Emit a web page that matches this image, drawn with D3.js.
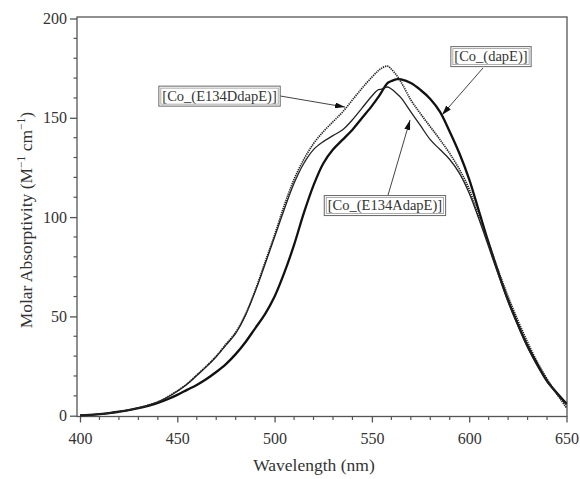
<!DOCTYPE html>
<html>
<head>
<meta charset="utf-8">
<script src="https://cdn.jsdelivr.net/npm/d3@7"></script>
<style>
  html, body { margin: 0; padding: 0; background: #fff; }
  svg { display: block; }
  text { font-family: "Liberation Serif", "Times New Roman", serif; fill: #333; }
</style>
</head>
<body>
<svg id="chart" width="580" height="479"></svg>
<script>
// Absorption spectra of Co(II)-substituted DapE enzymes (molar absorptivity vs wavelength)
const wavelengths = [400,405,410,415,420,425,430,435,440,445,450,455,460,465,470,475,480,485,490,495,
                     500,505,510,515,520,525,530,535,540,545,550,553,555,558,560,563,565,570,575,580,
                     585,590,595,600,605,610,615,620,625,630,635,640,645,650];

const dapE = [0.2,0.4,0.8,1.3,2.0,2.8,3.8,5.0,6.4,8.3,10.5,13,15.5,18.5,22,26,31,37,44,51,
              60,72,86,102,116,127,134,139,144,150,156,160,163,167.5,168.5,169.5,169.3,167.5,164,159.5,
              153,143,132,119,103,87,72,58,46,35,26,17.5,11.5,6];

const e134D = [0.2,0.4,0.8,1.3,2.0,2.8,3.9,5.3,7.0,9.5,12.5,16,20.5,25,30,36,42,51,63,77,
               91,106,119,129,137,143,148,153,159,165,170.5,173.5,175,176,174.5,171,168,159,152,145.5,
               139,132,124,114,100,87,73,60,48,37,27,18.5,11,4];

const e134A = [0.2,0.4,0.8,1.3,2.0,2.8,3.9,5.2,6.9,9.3,12.3,15.8,20.2,24.7,29.7,35.5,41.5,50.5,62.5,76,
               90,104,117,127,134,138,141,144,149,155,161,164,164.5,165.5,164.5,162,160,153,146,139,
               134,129,122,112,99,85,71,57.5,45.5,34.5,25,17,11,5.5];

const seriesNames = ["[Co_(dapE)]", "[Co_(E134DdapE)]", "[Co_(E134AdapE)]"];

// label anchor (box centre) and arrow start/tip, in data units: [wavelength, absorptivity]
const labelCentres = [[611.2, 181.1], [471.7, 161.2], [556.7, 106.1]];
const arrowStarts  = [[607.1, 175.1], [502.8, 161.0], [558.3, 111.1]];
const arrowTips    = [[586.0, 151.4], [536.2, 155.4], [569.6, 148.9]];

const xTicks = [400, 450, 500, 550, 600, 650];
const yTicks = [0, 50, 100, 150, 200];

const svg = d3.select("#chart");

const x = d3.scaleLinear().domain([400, 650]).range([80, 566.5]);
const y = d3.scaleLinear().domain([0, 200]).range([415.7, 18.5]);

const frameLeft = 77, frameRight = 567, frameTop = 17, frameBottom = 416.5;

// plot frame
svg.append("rect")
  .attr("x", frameLeft).attr("y", frameTop)
  .attr("width", frameRight - frameLeft).attr("height", frameBottom - frameTop)
  .attr("fill", "none").attr("stroke", "#555").attr("stroke-width", 1.3);

// axes
const xAxis = d3.axisBottom(x).tickValues(xTicks).tickSize(6).tickPadding(10).tickFormat(d3.format("d"));
const yAxis = d3.axisLeft(y).tickValues(yTicks).tickSize(7).tickPadding(3).tickFormat(d3.format("d"));

const gx = svg.append("g").attr("transform", `translate(0,${frameBottom})`).call(xAxis);
const gy = svg.append("g").attr("transform", `translate(${frameLeft},0)`).call(yAxis);
[gx, gy].forEach(g => {
  g.select(".domain").remove();
  g.selectAll(".tick line").attr("stroke", "#555").attr("stroke-width", 1.3);
  g.selectAll(".tick text").attr("font-size", 16).attr("fill", "#333")
    .attr("font-family", "Liberation Serif, serif");
});

// minor ticks every 10 units
const xMinor = d3.range(400, 651, 10).filter(v => !xTicks.includes(v));
const yMinor = d3.range(0, 201, 10).filter(v => !yTicks.includes(v));
svg.append("g").selectAll("line").data(xMinor).join("line")
  .attr("x1", d => x(d)).attr("x2", d => x(d))
  .attr("y1", frameBottom).attr("y2", frameBottom + 3.5)
  .attr("stroke", "#555").attr("stroke-width", 1.2);
svg.append("g").selectAll("line").data(yMinor).join("line")
  .attr("y1", d => y(d)).attr("y2", d => y(d))
  .attr("x1", frameLeft).attr("x2", frameLeft - 3.5)
  .attr("stroke", "#555").attr("stroke-width", 1.2);

// axis titles
svg.append("text")
  .attr("x", 314).attr("y", 471)
  .attr("text-anchor", "middle").attr("font-size", 17.5)
  .text("Wavelength (nm)");

const yTitle = svg.append("text")
  .attr("text-anchor", "start").attr("font-size", 17.5);
yTitle.append("tspan").text("Molar Absorptivity (M");
yTitle.append("tspan").attr("font-size", 11.5).attr("dy", -7).text("\u22121");
yTitle.append("tspan").attr("dy", 7).text(" cm");
yTitle.append("tspan").attr("font-size", 11.5).attr("dy", -7).text("\u22121");
yTitle.append("tspan").attr("dy", 7).text(")");
// centre the rotated title on the plot's vertical middle
const titleBox = yTitle.node().getBBox();
const titleMid = 220;
yTitle.attr("transform", `translate(32,${titleMid + titleBox.x + titleBox.width / 2}) rotate(-90)`);

// spectra
const line = d3.line()
  .x(d => x(d[0]))
  .y(d => y(d[1]))
  .curve(d3.curveCatmullRom.alpha(0.5));

const curves = [
  { values: dapE,  width: 2.3, dash: null,      color: "#111" },
  { values: e134D, width: 1.7, dash: "1.3,0.9", color: "#222" },
  { values: e134A, width: 1.3, dash: null,      color: "#222" }
];

svg.append("g").selectAll("path").data(curves).join("path")
  .attr("d", c => line(wavelengths.map((w, i) => [w, c.values[i]])))
  .attr("fill", "none")
  .attr("stroke", c => c.color)
  .attr("stroke-width", c => c.width)
  .attr("stroke-dasharray", c => c.dash)
  .attr("stroke-linejoin", "round");

// annotation arrows
svg.append("defs").append("marker")
  .attr("id", "arrowhead")
  .attr("viewBox", "0 0 10 6")
  .attr("refX", 10).attr("refY", 3)
  .attr("markerWidth", 10).attr("markerHeight", 6)
  .attr("markerUnits", "userSpaceOnUse")
  .attr("orient", "auto")
  .append("path").attr("d", "M0,0L10,3L0,6Z").attr("fill", "#111");

svg.append("g").selectAll("line").data(seriesNames).join("line")
  .attr("x1", (d, i) => x(arrowStarts[i][0])).attr("y1", (d, i) => y(arrowStarts[i][1]))
  .attr("x2", (d, i) => x(arrowTips[i][0])).attr("y2", (d, i) => y(arrowTips[i][1]))
  .attr("stroke", "#444").attr("stroke-width", 1)
  .attr("marker-end", "url(#arrowhead)");

// boxed curve labels
const labels = svg.append("g").selectAll("g").data(seriesNames).join("g")
  .attr("transform", (d, i) => `translate(${x(labelCentres[i][0])},${y(labelCentres[i][1])})`);

labels.append("text")
  .attr("text-anchor", "middle").attr("dy", "0.35em")
  .attr("font-size", 14.5).attr("fill", "#222")
  .text(d => d);

labels.each(function () {
  const g = d3.select(this);
  const bb = g.select("text").node().getBBox();
  const padX = 3.5, padY = 1.5;
  g.insert("rect", "text")
    .attr("x", bb.x - padX).attr("y", bb.y - padY)
    .attr("width", bb.width + 2 * padX).attr("height", bb.height + 2 * padY)
    .attr("fill", "#fff").attr("stroke", "#666").attr("stroke-width", 1);
  g.insert("rect", "text")
    .attr("x", bb.x - padX + 2).attr("y", bb.y - padY + 2)
    .attr("width", bb.width + 2 * padX - 4).attr("height", bb.height + 2 * padY - 4)
    .attr("fill", "none").attr("stroke", "#999").attr("stroke-width", 0.8);
});
</script>
</body>
</html>
